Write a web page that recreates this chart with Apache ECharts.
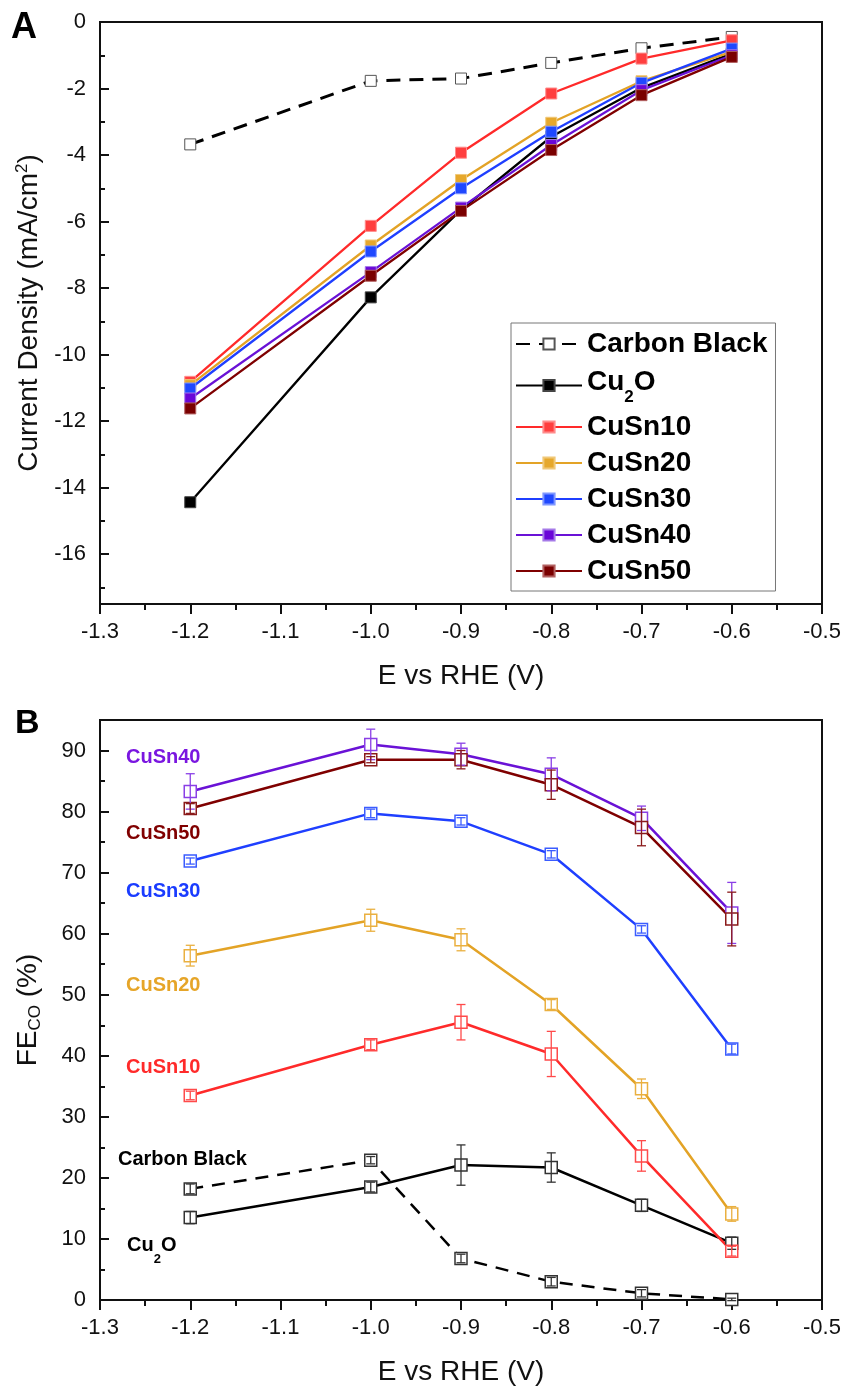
<!DOCTYPE html>
<html>
<head>
<meta charset="utf-8">
<script src="https://cdn.jsdelivr.net/npm/echarts@6/dist/echarts.min.js"></script>
<style>
  html, body { margin: 0; padding: 0; background: #fff; }
  #chart { width: 849px; height: 1395px; }
</style>
</head>
<body>
<div id="chart"></div>
<script>
// Potentials (V vs RHE)
const potentials = [-1.2, -1.0, -0.9, -0.8, -0.7, -0.6];
const samples = ['Carbon Black', 'Cu2O', 'CuSn10', 'CuSn20', 'CuSn30', 'CuSn40', 'CuSn50'];

// Panel A: current density (mA/cm2)
const jCarbonBlack = [-3.68, -1.77, -1.70, -1.23, -0.79, -0.45];
const jCu2O        = [-14.44, -8.28, -5.65, -3.45, -1.98, -0.95];
const jCuSn10      = [-10.82, -6.13, -3.93, -2.15, -1.10, -0.55];
const jCuSn20      = [-10.92, -6.72, -4.75, -3.03, -1.78, -0.90];
const jCuSn30      = [-11.02, -6.90, -5.00, -3.30, -1.83, -0.80];
const jCuSn40      = [-11.32, -7.52, -5.58, -3.70, -2.05, -1.00];
const jCuSn50      = [-11.62, -7.63, -5.68, -3.85, -2.20, -1.05];

// Panel B: Faradaic efficiency for CO (%) and its error
const feCarbonBlack = [18.2, 22.9, 6.8, 3.0, 1.1, 0.1];
const errCarbonBlack = [0.8, 0.6, 0.7, 0.7, 0.6, 0.2];
const feCu2O = [13.5, 18.5, 22.1, 21.7, 15.5, 9.3];
const errCu2O = [1.0, 0.8, 3.3, 2.4, 1.0, 1.0];
const feCuSn10 = [33.5, 41.8, 45.5, 40.3, 23.6, 8.0];
const errCuSn10 = [0.7, 0.8, 2.9, 3.7, 2.5, 0.8];
const feCuSn20 = [56.4, 62.2, 59.0, 48.4, 34.6, 14.1];
const errCuSn20 = [1.7, 1.8, 1.8, 0.8, 1.6, 1.2];
const feCuSn30 = [71.9, 79.7, 78.4, 73.0, 60.7, 41.1];
const errCuSn30 = [0.5, 0.7, 0.6, 0.6, 0.6, 0.8];
const feCuSn40 = [83.3, 91.0, 89.4, 86.1, 78.9, 63.4];
const errCuSn40 = [2.9, 2.5, 1.8, 2.7, 2.0, 5.0];
const feCuSn50 = [80.5, 88.5, 88.5, 84.4, 77.4, 62.4];
const errCuSn50 = [0.8, 0.5, 1.5, 2.4, 3.0, 4.4];

// Tick values
const ticksJ = [0, -2, -4, -6, -8, -10, -12, -14, -16];
const minorTicksJ = [-1, -3, -5, -7, -9, -11, -13, -15, -17];
const ticksFE = [0, 10, 20, 30, 40, 50, 60, 70, 80, 90];
const minorTicksFE = [5, 15, 25, 35, 45, 55, 65, 75, 85];

const jData = [jCarbonBlack, jCu2O, jCuSn10, jCuSn20, jCuSn30, jCuSn40, jCuSn50];
const feData = [feCarbonBlack, feCu2O, feCuSn10, feCuSn20, feCuSn30, feCuSn40, feCuSn50];
const errData = [errCarbonBlack, errCu2O, errCuSn10, errCuSn20, errCuSn30, errCuSn40, errCuSn50];

const lineColors   = ['#000000', '#000000', '#ff2a2a', '#e3a326', '#1f3fff', '#6a12d6', '#7f0000'];
const markerColors = ['#ffffff', '#000000', '#ff3f3f', '#e6a82c', '#1f48ff', '#6a06d8', '#7a0000'];
const markerEdges  = ['#555555', '#444444', '#ff8c8c', '#f0c878', '#7f97ff', '#a57ae8', '#b26060'];
const openEdges    = ['#333333', '#333333', '#ff4a4a', '#eab040', '#3b5cff', '#8a3fe6', '#8a1a1a'];

const FONT = '"Liberation Sans", Arial, sans-serif';

const chart = echarts.init(document.getElementById('chart'));

function pair(xs, ys) { return xs.map((x, i) => [x, ys[i]]); }

function xAxisFor(gridIndex) {
  return {
    type: 'value', gridIndex: gridIndex, min: -1.3, max: -0.5, interval: 0.1,
    name: 'E vs RHE (V)', nameLocation: 'middle', nameGap: 58,
    nameTextStyle: { fontFamily: FONT, fontSize: 28, color: '#111' },
    axisLine: { show: true, onZero: false, lineStyle: { color: '#111', width: 2 } },
    axisTick: { show: true, inside: false, length: 10, lineStyle: { color: '#111', width: 2 } },
    minorTick: { show: true, splitNumber: 2, length: 6, lineStyle: { color: '#111', width: 2 } },
    axisLabel: { fontFamily: FONT, fontSize: 22, color: '#111', margin: 17,
      formatter: v => v.toFixed(1) },
    splitLine: { show: false }
  };
}

function mainY(gridIndex, min, max, ticks, nameRich, name) {
  return {
    type: 'value', gridIndex: gridIndex, min: min, max: max, position: 'left',
    name: name, nameLocation: 'middle', nameGap: 56, nameRotate: 90,
    nameTextStyle: { fontFamily: FONT, fontSize: 28, color: '#111', rich: nameRich },
    axisLine: { show: true, onZero: false, lineStyle: { color: '#111', width: 2 } },
    axisTick: { show: true, inside: true, length: 9, customValues: ticks, lineStyle: { color: '#111', width: 2 } },
    axisLabel: { fontFamily: FONT, fontSize: 22, color: '#111', margin: 14, customValues: ticks },
    splitLine: { show: false }
  };
}

function minorY(gridIndex, min, max, ticks) {
  return {
    type: 'value', gridIndex: gridIndex, min: min, max: max, position: 'left',
    axisLine: { show: false, onZero: false },
    axisTick: { show: true, inside: true, length: 5, customValues: ticks, lineStyle: { color: '#111', width: 2 } },
    axisLabel: { show: false },
    splitLine: { show: false }
  };
}

const seriesList = [];

// Panel A lines
samples.forEach((name, i) => {
  const isCB = i === 0;
  seriesList.push({
    type: 'line', name: name, xAxisIndex: 0, yAxisIndex: 0,
    data: pair(potentials, jData[i]),
    symbol: 'rect', symbolSize: 11,
    lineStyle: { color: lineColors[i], width: isCB ? 3 : 2.3, type: isCB ? [14, 9] : 'solid' },
    itemStyle: { color: markerColors[i], borderColor: markerEdges[i], borderWidth: 1 },
    emphasis: { disabled: true },
    z: 2 + i * 0.01
  });
});

// Panel B lines
samples.forEach((name, i) => {
  const isCB = i === 0;
  seriesList.push({
    type: 'line', name: name + ' FE', xAxisIndex: 1, yAxisIndex: 2,
    data: pair(potentials, feData[i]),
    symbol: 'rect', symbolSize: 12,
    lineStyle: { color: lineColors[i], width: 2.5, type: isCB ? [13, 9] : 'solid' },
    itemStyle: { color: '#ffffff', borderColor: openEdges[i], borderWidth: 1.5 },
    emphasis: { disabled: true },
    z: 2
  });
});

// Panel B error bars
samples.forEach((name, i) => {
  seriesList.push({
    type: 'custom', name: name + ' err', xAxisIndex: 1, yAxisIndex: 2,
    data: potentials.map((x, k) => [x, feData[i][k], errData[i][k]]),
    z: 4,
    silent: true,
    renderItem: function (params, api) {
      const x = api.value(0), y = api.value(1), e = api.value(2);
      const top = api.coord([x, y + e]);
      const bot = api.coord([x, y - e]);
      const hw = 4.5;
      const style = { stroke: openEdges[i], lineWidth: 1.3, fill: null };
      return {
        type: 'group',
        children: [
          { type: 'line', shape: { x1: top[0], y1: top[1], x2: bot[0], y2: bot[1] }, style: style },
          { type: 'line', shape: { x1: top[0] - hw, y1: top[1], x2: top[0] + hw, y2: top[1] }, style: style },
          { type: 'line', shape: { x1: bot[0] - hw, y1: bot[1], x2: bot[0] + hw, y2: bot[1] }, style: style }
        ]
      };
    }
  });
});

const labelStyle = { fontFamily: FONT, fontSize: 20, fontWeight: 'bold' };

const option = {
  animation: false,
  backgroundColor: '#ffffff',
  grid: [
    { left: 100, top: 22, width: 722, height: 582, show: true, borderColor: '#111', borderWidth: 2, backgroundColor: 'transparent' },
    { left: 100, top: 720, width: 722, height: 580, show: true, borderColor: '#111', borderWidth: 2, backgroundColor: 'transparent' }
  ],
  xAxis: [xAxisFor(0), xAxisFor(1)],
  yAxis: [
    mainY(0, -17.5, 0, ticksJ, { sup: { fontFamily: FONT, fontSize: 17, color: '#111', verticalAlign: 'top', lineHeight: 30 } },
      'Current Density (mA/cm{sup|2})'),
    minorY(0, -17.5, 0, minorTicksJ),
    mainY(1, 0, 95, ticksFE, { sub: { fontFamily: FONT, fontSize: 17, color: '#111', verticalAlign: 'bottom', padding: [14, 0, 0, 0] } },
      'FE{sub|CO} (%)'),
    minorY(1, 0, 95, minorTicksFE)
  ],
  legend: {
    show: true,
    data: samples,
    orient: 'vertical',
    left: 511, top: 323,
    padding: [6, 8, 5, 4],
    borderColor: '#777', borderWidth: 1,
    itemWidth: 66, itemHeight: 14, itemGap: 6,
    selectedMode: false,
    textStyle: {
      fontFamily: FONT, fontSize: 28, fontWeight: 'bold', color: '#000', lineHeight: 30,
      rich: {
        m: { fontFamily: FONT, fontSize: 28, fontWeight: 'bold', color: '#000', lineHeight: 30, verticalAlign: 'top', padding: [3, 0, 0, 0] },
        s: { fontFamily: FONT, fontSize: 17, fontWeight: 'bold', color: '#000', lineHeight: 41, verticalAlign: 'bottom' }
      }
    },
    formatter: function (name) {
      return name === 'Cu2O' ? '{m|Cu}{s|2}{m|O}' : name;
    }
  },
  graphic: [
    { type: 'text', left: 11, top: 10, style: { text: 'A', fontFamily: FONT, fontSize: 36, fontWeight: 'bold', fill: '#000' } },
    { type: 'text', left: 15, top: 707, style: { text: 'B', fontFamily: FONT, fontSize: 34, fontWeight: 'bold', fill: '#000' } },
    { type: 'text', left: 126, top: 747, style: Object.assign({ text: 'CuSn40', fill: '#7a16e0' }, labelStyle) },
    { type: 'text', left: 126, top: 823, style: Object.assign({ text: 'CuSn50', fill: '#800000' }, labelStyle) },
    { type: 'text', left: 126, top: 881, style: Object.assign({ text: 'CuSn30', fill: '#1a3cff' }, labelStyle) },
    { type: 'text', left: 126, top: 975, style: Object.assign({ text: 'CuSn20', fill: '#e6a528' }, labelStyle) },
    { type: 'text', left: 126, top: 1057, style: Object.assign({ text: 'CuSn10', fill: '#ff2a2a' }, labelStyle) },
    { type: 'text', left: 118, top: 1149, style: Object.assign({ text: 'Carbon Black', fill: '#000' }, labelStyle) },
    { type: 'text', left: 127, top: 1235, style: Object.assign({
        text: '{m|Cu}{s|2}{m|O}', fill: '#000',
        rich: {
          m: { fontFamily: FONT, fontSize: 20, fontWeight: 'bold', lineHeight: 22, verticalAlign: 'top' },
          s: { fontFamily: FONT, fontSize: 13, fontWeight: 'bold', lineHeight: 31, verticalAlign: 'bottom' }
        }
      }, labelStyle) }
  ],
  series: seriesList
};

chart.setOption(option);
</script>
</body>
</html>
